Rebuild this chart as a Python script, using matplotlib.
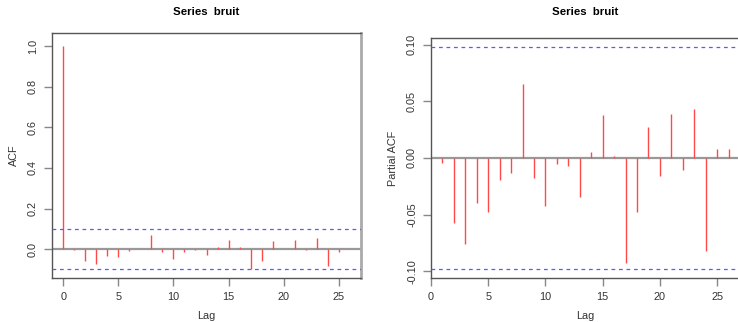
import numpy as np
import matplotlib
matplotlib.use("Agg")
import matplotlib.pyplot as plt

plt.rcParams['font.family'] = ['Liberation Sans', 'DejaVu Sans']

# ACF of "bruit", lags 0..26
acf_lags = np.arange(0, 27)
acf_vals = [1.0, -0.005, -0.058, -0.074, -0.035, -0.039, -0.010, 0.001,
            0.072, -0.013, -0.048, -0.013, -0.006, -0.030, 0.013, 0.046,
            0.013, -0.097, -0.056, 0.038, 0.002, 0.046, -0.006, 0.053,
            -0.085, -0.015, 0.003]

# PACF, lags 1..26
pacf_lags = np.arange(1, 27)
pacf_vals = [-0.004, -0.057, -0.076, -0.0395, -0.048, -0.0195, -0.013, 0.065,
             -0.0177, -0.042, -0.0056, -0.0074, -0.034, 0.0056, 0.038, 0.0018,
             -0.093, -0.048, 0.0277, -0.0156, 0.0386, -0.0106, 0.0428, -0.082,
             0.0083, 0.0083]

clim = 0.098
title = "Series  bruit"

fig = plt.figure(figsize=(7.38, 3.22), dpi=100)
axL = fig.add_axes([52/738, 44/322, 309/738, 245/322])
axR = fig.add_axes([431/738, 44/322, 309/738, 240/322])

def style(ax, yticks, fmt, ylabel, top_px):
    for s in ax.spines.values():
        s.set_color('#555555')
        s.set_linewidth(1.0)
    ax.tick_params(direction='out', length=6, width=1, color='#888888',
                   labelsize=7.8, labelcolor='#333333', pad=4)
    ax.set_yticks(yticks)
    ax.set_yticklabels([fmt % v for v in yticks], rotation=90, va='center')
    ax.set_xticks([0, 5, 10, 15, 20, 25])
    h = 278 - top_px
    ax.set_xlabel("Lag", fontsize=7.8, color='#333333', va='center')
    ax.xaxis.set_label_coords(0.5, (278 - 316) / h)
    ax.set_ylabel(ylabel, fontsize=7.8, color='#333333', va='center')
    ax.yaxis.set_label_coords(-38 / 309, 0.5)
    ax.text(0.5, 1 + (top_px - 12) / h, title, transform=ax.transAxes,
            fontsize=8.2, fontweight='bold', ha='center', va='center')

def draw(ax, lags, vals):
    ax.axhline(0, color='#999999', lw=1.6, zorder=1)
    ax.vlines(lags, 0, vals, color='#ff4a4a', lw=1.0, zorder=2)
    ax.axhline(clim, color='#5a5aff', lw=0.9, ls=(0, (3, 3)), zorder=3)
    ax.axhline(-clim, color='#5a5aff', lw=0.9, ls=(0, (3, 3)), zorder=3)

draw(axL, acf_lags, acf_vals)
axL.set_xlim(-1.04, 27.04)
axL.set_ylim(-0.142, 1.064)
style(axL, [0.0, 0.2, 0.4, 0.6, 0.8, 1.0], "%.1f", "ACF", 33)
axL.spines['right'].set_color('#aaaaaa')
axL.spines['right'].set_linewidth(2)

draw(axR, pacf_lags, pacf_vals)
axR.set_xlim(0, 27)
axR.set_ylim(-0.1058, 0.1058)
style(axR, [-0.10, -0.05, 0.0, 0.05, 0.10], "%.2f", "Partial ACF", 38)

fig.savefig("out.png", dpi=100)
